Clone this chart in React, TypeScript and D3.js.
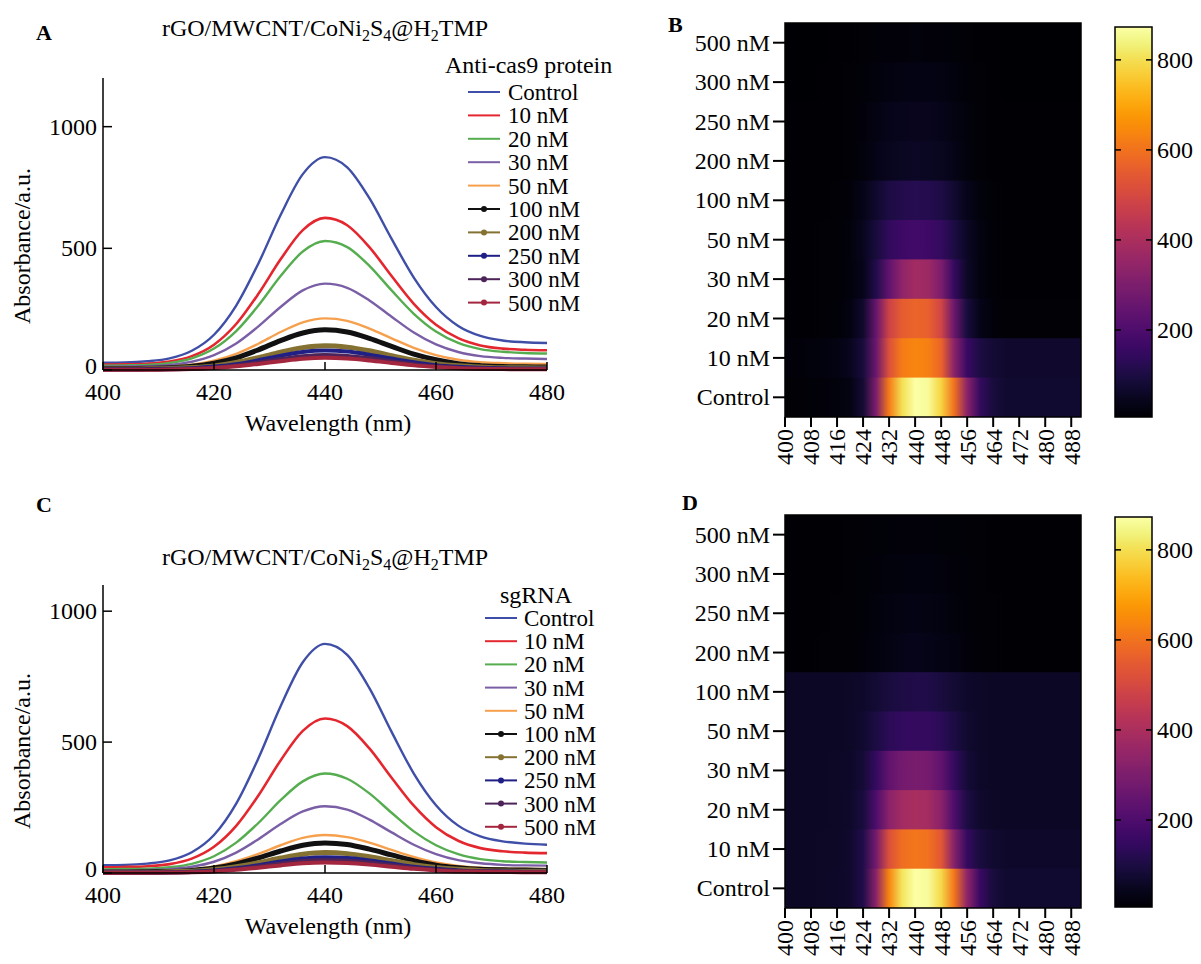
import React from "react";
import * as d3 from "d3";

// ---------- shared categories ----------
const WAVELENGTHS = [400, 404, 408, 412, 416, 420, 424, 428, 432, 436, 440, 444, 448, 452, 456, 460, 464, 468, 472, 476, 480];
const CONC_LABELS = ["Control", "10 nM", "20 nM", "30 nM", "50 nM", "100 nM", "200 nM", "250 nM", "300 nM", "500 nM"];
const LINE_COLORS = ["#3f4ea6", "#e4262f", "#55ad4f", "#7a5fa6", "#f6a04d", "#111111", "#857232", "#1f1f86", "#4d2459", "#a3263f"];
const HAS_MARKER = [false, false, false, false, false, true, true, true, true, true];
const SPEC_X_TICKS = [400, 420, 440, 460, 480];
const SPEC_Y_TICKS = [0, 500, 1000];

// ---------- panel A : anti-cas9 protein ----------
const A_CONTROL = [30, 31, 36, 48, 79, 145, 265, 438, 637, 805, 875, 833, 706, 539, 380, 259, 181, 140, 121, 114, 111];
const A_10 = [22, 23, 26, 35, 57, 104, 189, 313, 455, 575, 625, 595, 505, 386, 272, 186, 131, 101, 88, 83, 81];
const A_20 = [18, 19, 21, 29, 48, 88, 160, 265, 386, 487, 530, 505, 428, 327, 231, 158, 111, 86, 75, 70, 68];
const A_30 = [14, 15, 16, 21, 34, 61, 109, 179, 259, 327, 355, 338, 286, 219, 154, 105, 74, 57, 50, 47, 45];
const A_50 = [10, 10, 11, 14, 22, 38, 66, 108, 156, 196, 212, 202, 170, 130, 91, 61, 42, 32, 28, 26, 25];
const A_100 = [6, 6, 7, 9, 15, 28, 50, 83, 121, 152, 165, 156, 130, 97, 65, 42, 26, 18, 14, 13, 12];
const A_200 = [4, 4, 5, 6, 10, 17, 31, 51, 73, 92, 100, 94, 79, 59, 40, 26, 17, 12, 9, 9, 8];
const A_250 = [3, 3, 4, 5, 7, 14, 24, 40, 59, 74, 80, 76, 63, 47, 32, 20, 13, 9, 7, 6, 6];
const A_300 = [2, 2, 2, 3, 5, 10, 19, 31, 45, 57, 62, 58, 49, 36, 24, 15, 9, 6, 5, 4, 4];
const A_500 = [1, 1, 1, 2, 4, 8, 15, 25, 36, 46, 50, 47, 39, 29, 19, 12, 7, 5, 4, 3, 3];

// ---------- panel C : sgRNA ----------
const C_CONTROL = [30, 31, 36, 48, 79, 145, 265, 438, 637, 805, 875, 833, 706, 539, 380, 259, 181, 140, 121, 112, 108];
const C_10 = [22, 23, 26, 34, 55, 100, 180, 296, 430, 543, 590, 561, 476, 364, 257, 175, 123, 95, 83, 78, 76];
const C_20 = [14, 15, 16, 22, 35, 64, 116, 191, 278, 350, 380, 360, 304, 230, 159, 106, 72, 53, 45, 42, 40];
const C_30 = [10, 10, 12, 15, 24, 43, 78, 129, 187, 235, 255, 242, 204, 155, 108, 72, 49, 37, 31, 29, 28];
const C_50 = [6, 6, 7, 9, 14, 25, 45, 73, 106, 134, 145, 137, 116, 88, 61, 40, 27, 20, 17, 16, 15];
const C_100 = [4, 4, 5, 6, 10, 19, 35, 58, 84, 106, 115, 109, 91, 69, 47, 30, 20, 14, 12, 11, 10];
const C_200 = [3, 3, 3, 5, 7, 13, 24, 39, 57, 72, 78, 74, 62, 47, 32, 21, 14, 10, 8, 7, 7];
const C_250 = [2, 2, 2, 3, 5, 10, 18, 30, 44, 55, 60, 57, 48, 36, 24, 16, 10, 7, 6, 5, 5];
const C_300 = [1, 1, 1, 2, 4, 8, 15, 25, 36, 46, 50, 47, 40, 30, 20, 13, 8, 6, 5, 4, 4];
const C_500 = [1, 1, 1, 2, 3, 6, 12, 20, 29, 37, 40, 38, 32, 24, 16, 10, 6, 5, 4, 3, 3];

// ---------- heatmaps ----------
const HEAT_COLS = [400, 404, 408, 412, 416, 420, 424, 428, 432, 436, 440, 444, 448, 452, 456, 460, 464, 468, 472, 476, 480, 484, 488];
const HEAT_X_TICKS = [400, 408, 416, 424, 432, 440, 448, 456, 464, 472, 480, 488];
const HEAT_ROW_ORDER = ["500 nM", "300 nM", "250 nM", "200 nM", "100 nM", "50 nM", "30 nM", "20 nM", "10 nM", "Control"];
const CB_TICKS = [200, 400, 600, 800];

const B_CONTROL = [10, 10, 12, 15, 20, 30, 80, 300, 620, 800, 870, 860, 780, 600, 330, 150, 90, 75, 75, 75, 75, 75, 75];
const B_10 = [15, 15, 18, 22, 30, 45, 90, 260, 520, 620, 640, 630, 570, 330, 160, 100, 80, 70, 70, 70, 70, 70, 70];
const B_20 = [5, 5, 6, 8, 12, 25, 70, 250, 480, 550, 570, 560, 490, 260, 90, 35, 15, 8, 8, 8, 8, 8, 8];
const B_30 = [5, 5, 6, 8, 10, 18, 40, 110, 240, 340, 380, 370, 300, 150, 60, 25, 12, 6, 6, 6, 6, 6, 6];
const B_50 = [5, 5, 6, 8, 10, 20, 45, 90, 140, 165, 175, 170, 150, 100, 55, 25, 12, 6, 6, 6, 6, 6, 6];
const B_100 = [4, 4, 5, 6, 8, 15, 35, 70, 100, 115, 120, 118, 105, 75, 40, 18, 8, 5, 5, 5, 5, 5, 5];
const B_200 = [4, 4, 4, 5, 6, 10, 20, 35, 45, 52, 55, 54, 48, 35, 20, 10, 6, 4, 4, 4, 4, 4, 4];
const B_250 = [4, 4, 4, 5, 6, 9, 17, 28, 38, 44, 46, 45, 40, 30, 18, 9, 5, 4, 4, 4, 4, 4, 4];
const B_300 = [3, 3, 3, 4, 5, 7, 12, 20, 26, 30, 32, 31, 28, 21, 13, 7, 4, 3, 3, 3, 3, 3, 3];
const B_500 = [3, 3, 3, 3, 4, 5, 8, 12, 15, 17, 18, 17, 15, 12, 8, 5, 4, 3, 3, 3, 3, 3, 3];

const D_CONTROL = [55, 55, 55, 58, 62, 70, 110, 330, 640, 810, 870, 860, 790, 610, 340, 160, 90, 75, 75, 75, 75, 75, 75];
const D_10 = [55, 55, 56, 58, 60, 70, 110, 280, 520, 590, 610, 600, 540, 320, 150, 95, 75, 65, 65, 65, 65, 65, 65];
const D_20 = [55, 55, 55, 56, 58, 65, 95, 200, 330, 380, 395, 385, 330, 200, 100, 70, 60, 55, 55, 55, 55, 55, 55];
const D_30 = [55, 55, 55, 56, 58, 62, 85, 150, 240, 280, 290, 285, 240, 150, 85, 62, 57, 55, 55, 55, 55, 55, 55];
const D_50 = [55, 55, 55, 55, 57, 60, 75, 100, 130, 145, 150, 148, 130, 100, 75, 60, 56, 55, 55, 55, 55, 55, 55];
const D_100 = [55, 55, 55, 55, 56, 58, 65, 80, 95, 105, 108, 106, 95, 80, 65, 58, 56, 55, 55, 55, 55, 55, 55];
const D_200 = [6, 6, 6, 7, 8, 10, 15, 22, 30, 35, 38, 37, 32, 24, 15, 10, 8, 6, 6, 6, 6, 6, 6];
const D_250 = [6, 6, 6, 6, 7, 9, 13, 19, 25, 29, 31, 30, 27, 20, 13, 9, 7, 6, 6, 6, 6, 6, 6];
const D_300 = [5, 5, 5, 6, 6, 8, 11, 15, 19, 22, 23, 22, 20, 16, 11, 8, 6, 5, 5, 5, 5, 5, 5];
const D_500 = [5, 5, 5, 5, 6, 7, 9, 11, 13, 14, 15, 14, 13, 11, 9, 7, 6, 5, 5, 5, 5, 5, 5];

const SERIES_A = [A_CONTROL, A_10, A_20, A_30, A_50, A_100, A_200, A_250, A_300, A_500];
const SERIES_C = [C_CONTROL, C_10, C_20, C_30, C_50, C_100, C_200, C_250, C_300, C_500];
const HEAT_B: Record<string, number[]> = {
  Control: B_CONTROL, "10 nM": B_10, "20 nM": B_20, "30 nM": B_30, "50 nM": B_50,
  "100 nM": B_100, "200 nM": B_200, "250 nM": B_250, "300 nM": B_300, "500 nM": B_500,
};
const HEAT_D: Record<string, number[]> = {
  Control: D_CONTROL, "10 nM": D_10, "20 nM": D_20, "30 nM": D_30, "50 nM": D_50,
  "100 nM": D_100, "200 nM": D_200, "250 nM": D_250, "300 nM": D_300, "500 nM": D_500,
};

const FONT = "'Liberation Serif', 'Times New Roman', 'DejaVu Serif', serif";
const FS = 24;

function Title({ y }: { y: number }) {
  return (
    <text x={325} y={y} textAnchor="middle" fontSize={FS}>
      rGO/MWCNT/CoNi<tspan fontSize={16} dy={5}>2</tspan>
      <tspan dy={-5}>S</tspan>
      <tspan fontSize={16} dy={5}>4</tspan>
      <tspan dy={-5}>@H</tspan>
      <tspan fontSize={16} dy={5}>2</tspan>
      <tspan dy={-5}>TMP</tspan>
    </text>
  );
}

type SpecProps = {
  series: number[][];
  yMax: number;
  yTop: number;
  yZero: number;
  letter: string;
  letterY: number;
  titleY: number;
  legendTitle: string;
  legendTitleX: number;
  legendTitleY: number;
  legendY0: number;
  legendStep: number;
  lineX0: number;
  lineX1: number;
  textX: number;
};

function SpectrumPanel(p: SpecProps) {
  const x = d3.scaleLinear().domain([400, 480]).range([103, 547]);
  const y = d3.scaleLinear().domain([0, p.yMax]).range([p.yZero, p.yTop]);
  const line = d3
    .line<number>()
    .x((_, i) => x(WAVELENGTHS[i]))
    .y((d) => y(d))
    .curve(d3.curveMonotoneX);
  const widths = [2.4, 2.6, 2.4, 2.4, 2.4, 5, 5, 4, 4, 4];
  return (
    <g>
      <text x={36} y={p.letterY} fontSize={22} fontWeight="bold">{p.letter}</text>
      <Title y={p.titleY} />
      {p.series.map((s, i) => (
        <path key={i} d={line(s) || ""} fill="none" stroke={LINE_COLORS[i]} strokeWidth={widths[i]} />
      ))}
      {/* axes */}
      <line x1={x(400)} x2={x(480)} y1={y(0)} y2={y(0)} stroke="#000" strokeWidth={1.5} />
      <line x1={x(400)} x2={x(400)} y1={y(0)} y2={y(p.yMax)} stroke="#000" strokeWidth={1.5} />
      {SPEC_X_TICKS.map((t) => (
        <g key={t}>
          <line x1={x(t)} x2={x(t)} y1={y(0)} y2={y(0) - 8} stroke="#000" strokeWidth={1.5} />
          <text x={x(t)} y={y(0) + 30} textAnchor="middle" fontSize={FS}>{t}</text>
        </g>
      ))}
      {SPEC_Y_TICKS.map((t) => (
        <g key={t}>
          <line x1={x(400)} x2={x(400) + 9} y1={y(t)} y2={y(t)} stroke="#000" strokeWidth={1.5} />
          <text x={x(400) - 6} y={y(t) + (t === 0 ? 4 : 8)} textAnchor="end" fontSize={FS}>{t}</text>
        </g>
      ))}
      <text x={328} y={y(0) + 61} textAnchor="middle" fontSize={FS}>Wavelength (nm)</text>
      <text
        transform={`translate(30,${(y(0) + y(p.yMax)) / 2 + 22}) rotate(-90)`}
        textAnchor="middle"
        fontSize={FS}
      >
        Absorbance/a.u.
      </text>
      {/* legend */}
      <text x={p.legendTitleX} y={p.legendTitleY + 8} fontSize={FS}>{p.legendTitle}</text>
      {CONC_LABELS.map((lab, i) => {
        const ly = p.legendY0 + i * p.legendStep;
        return (
          <g key={lab}>
            <line x1={p.lineX0} x2={p.lineX1} y1={ly} y2={ly} stroke={LINE_COLORS[i]} strokeWidth={2} />
            {HAS_MARKER[i] && <circle cx={(p.lineX0 + p.lineX1) / 2} cy={ly} r={3} fill={LINE_COLORS[i]} />}
            <text x={p.textX} y={ly + 8} fontSize={23}>{lab}</text>
          </g>
        );
      })}
    </g>
  );
}

type HeatProps = {
  rows: Record<string, number[]>;
  top: number;
  bottom: number;
  cbTop: number;
  cbBottom: number;
  letter: string;
  letterX: number;
  letterY: number;
  uid: string;
};

const VMAX = 873;

function HeatPanel(p: HeatProps) {
  const x = d3.scaleLinear().domain([400, 491]).range([785, 1081]);
  const yb = d3.scaleBand().domain(HEAT_ROW_ORDER).range([p.top, p.bottom]);
  const color = d3.scaleSequential(d3.interpolateInferno).domain([0, VMAX]);
  const cb = d3.scaleLinear().domain([0, VMAX]).range([p.cbBottom + 3, p.cbTop]);
  const cbStops = d3.range(0, 41).map((k) => k / 40);
  const cbLo = cb.invert(p.cbBottom);
  const x0 = x(400);
  const x1 = x(491);
  return (
    <g>
      <defs>
        {HEAT_ROW_ORDER.map((lab, r) => {
          const vals = p.rows[lab];
          return (
            <linearGradient key={lab} id={`${p.uid}-row${r}`} gradientUnits="userSpaceOnUse" x1={x0} x2={x1} y1={0} y2={0}>
              {HEAT_COLS.map((w, j) => (
                <stop key={w} offset={(x(w) - x0) / (x1 - x0)} stopColor={color(vals[j])} />
              ))}
              <stop offset={1} stopColor={color(vals[vals.length - 1])} />
            </linearGradient>
          );
        })}
        <linearGradient id={`${p.uid}-cb`} gradientUnits="userSpaceOnUse" x1={0} x2={0} y1={p.cbBottom} y2={p.cbTop}>
          {cbStops.map((f) => (
            <stop key={f} offset={f} stopColor={color(cbLo + f * (VMAX - cbLo))} />
          ))}
        </linearGradient>
      </defs>
      <text x={p.letterX} y={p.letterY} fontSize={22} fontWeight="bold">{p.letter}</text>
      {HEAT_ROW_ORDER.map((lab, r) => (
        <rect
          key={lab}
          x={x0}
          y={yb(lab)!}
          width={x1 - x0}
          height={yb.bandwidth() + (r === HEAT_ROW_ORDER.length - 1 ? 0 : 1)}
          fill={`url(#${p.uid}-row${r})`}
        />
      ))}
      <rect x={x0} y={p.top} width={x1 - x0} height={p.bottom - p.top} fill="none" stroke="#000" strokeWidth={1.5} />
      {HEAT_ROW_ORDER.map((lab) => {
        const cy = yb(lab)! + yb.bandwidth() / 2;
        return (
          <g key={lab}>
            <line x1={x0 - 12} x2={x0} y1={cy} y2={cy} stroke="#000" strokeWidth={2} />
            <text x={x0 - 15} y={cy + 8} textAnchor="end" fontSize={FS}>{lab}</text>
          </g>
        );
      })}
      {HEAT_X_TICKS.map((t) => (
        <g key={t}>
          <line x1={x(t)} x2={x(t)} y1={p.bottom} y2={p.bottom + 10} stroke="#000" strokeWidth={2} />
          <text
            transform={`translate(${x(t)},${p.bottom + 12}) rotate(-90)`}
            textAnchor="end"
            dy="0.35em"
            fontSize={FS}
          >
            {t}
          </text>
        </g>
      ))}
      {/* colorbar */}
      <rect x={1115} y={p.cbTop} width={37} height={p.cbBottom - p.cbTop} fill={`url(#${p.uid}-cb)`} stroke="#000" strokeWidth={1.5} />
      {CB_TICKS.map((t) => (
        <g key={t}>
          <line x1={1115} x2={1121} y1={cb(t)} y2={cb(t)} stroke="#000" strokeWidth={1.5} />
          <line x1={1146} x2={1152} y1={cb(t)} y2={cb(t)} stroke="#000" strokeWidth={1.5} />
          <text x={1157} y={cb(t) + 8} fontSize={FS}>{t}</text>
        </g>
      ))}
    </g>
  );
}

export default function App() {
  return (
    <svg
      width={1201}
      height={964}
      viewBox="0 0 1201 964"
      fontFamily={FONT}
      style={{ position: "absolute", left: 0, top: 0, background: "#fff", fontFamily: FONT }}
    >
      <rect x={0} y={0} width={1201} height={964} fill="#fff" />
      <SpectrumPanel
        series={SERIES_A}
        yMax={1200}
        yTop={78}
        yZero={370}
        letter="A"
        letterY={40}
        titleY={36}
        legendTitle="Anti-cas9 protein"
        legendTitleX={445}
        legendTitleY={65}
        legendY0={92}
        legendStep={23.4}
        lineX0={468}
        lineX1={500}
        textX={508}
      />
      <SpectrumPanel
        series={SERIES_C}
        yMax={1100}
        yTop={585}
        yZero={873}
        letter="C"
        letterY={512}
        titleY={565}
        legendTitle="sgRNA"
        legendTitleX={500}
        legendTitleY={595}
        legendY0={618}
        legendStep={23.2}
        lineX0={485}
        lineX1={517}
        textX={524}
      />
      <HeatPanel rows={HEAT_B} top={23} bottom={417} cbTop={27} cbBottom={417} letter="B" letterX={668} letterY={32} uid="hb" />
      <HeatPanel rows={HEAT_D} top={515} bottom={908} cbTop={517} cbBottom={907} letter="D" letterX={682} letterY={510} uid="hd" />
    </svg>
  );
}
